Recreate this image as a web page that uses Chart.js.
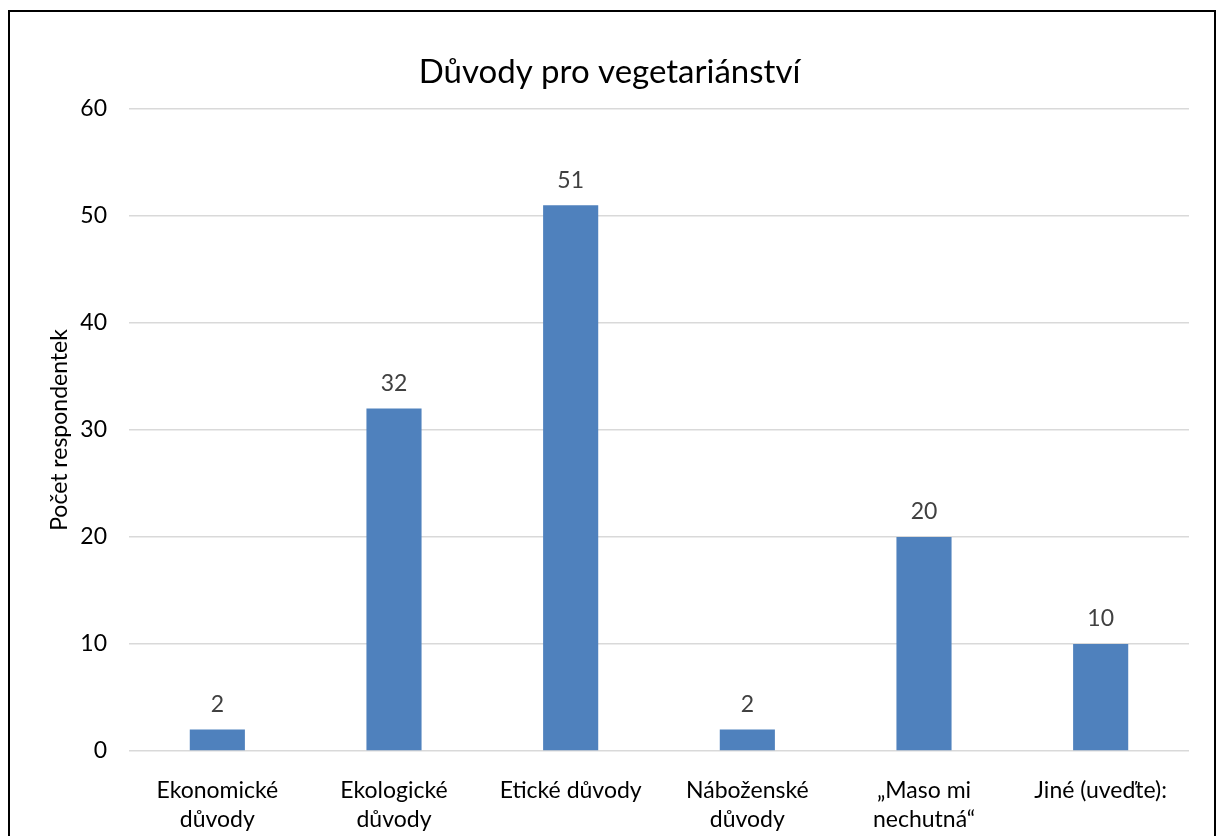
<!DOCTYPE html>
<html>
<head>
<meta charset="utf-8">
<script src="https://cdn.jsdelivr.net/npm/chart.js@4/dist/chart.umd.min.js"></script>
<style>
  html, body { margin: 0; padding: 0; background: #ffffff; }
  #wrap { width: 1224px; height: 836px; position: relative; }
</style>
</head>
<body>
<div id="wrap"><canvas id="c" width="1224" height="836"></canvas></div>
<script>
// Survey: reasons for being vegetarian
const categories = [
  ["Ekonomické", "důvody"],
  ["Ekologické", "důvody"],
  "Etické důvody",
  ["Náboženské", "důvody"],
  ["„Maso mi", "nechutná“"],
  "Jiné (uveďte):"
];
const respondents = [2, 32, 51, 2, 20, 10];
const yTicks = [0, 10, 20, 30, 40, 50, 60];

const FONT = "Lato, 'Open Sans', sans-serif";

// Outer frame and white background
const framePlugin = {
  id: 'frame',
  beforeDraw(chart) {
    const ctx = chart.ctx;
    ctx.save();
    ctx.fillStyle = '#ffffff';
    ctx.fillRect(0, 0, chart.width, chart.height);
    ctx.strokeStyle = '#000000';
    ctx.lineWidth = 2;
    ctx.strokeRect(9, 11, 1206, 840);
    ctx.restore();
  }
};

// Value labels above each bar
const valueLabels = {
  id: 'valueLabels',
  afterDatasetsDraw(chart) {
    const ctx = chart.ctx;
    const meta = chart.getDatasetMeta(0);
    ctx.save();
    ctx.font = "23px " + FONT;
    ctx.fillStyle = '#404040';
    ctx.textAlign = 'center';
    ctx.textBaseline = 'middle';
    meta.data.forEach((bar, i) => {
      ctx.fillText(String(chart.data.datasets[0].data[i]), bar.x, bar.y - 25);
    });
    ctx.restore();
  }
};

new Chart(document.getElementById('c'), {
  type: 'bar',
  data: {
    labels: categories,
    datasets: [{
      data: respondents,
      backgroundColor: '#4F81BD',
      borderWidth: 0,
      categoryPercentage: 1,
      barPercentage: 0.312
    }]
  },
  options: {
    responsive: false,
    animation: false,
    layout: { padding: { left: 30, right: 35, top: 0, bottom: 0 } },
    plugins: {
      legend: { display: false },
      tooltip: { enabled: false },
      title: {
        display: true,
        text: 'Důvody pro vegetariánství',
        color: '#000000',
        font: { family: FONT, size: 33, weight: 'normal', lineHeight: 1.2 },
        padding: { top: 53, bottom: 16.4 }
      }
    },
    scales: {
      x: {
        grid: { display: false },
        border: { display: false },
        ticks: {
          color: '#000000',
          font: { family: FONT, size: 23, lineHeight: 1.22 },
          maxRotation: 0,
          minRotation: 0,
          autoSkip: false,
          padding: 18
        },
        afterFit(s) { s.height = 85; }
      },
      y: {
        min: 0,
        max: 60,
        afterBuildTicks(s) { s.ticks = yTicks.map(v => ({ value: v })); },
        grid: { color: '#d9d9d9', lineWidth: 1.5, drawTicks: false },
        border: { display: false },
        ticks: {
          color: '#000000',
          font: { family: FONT, size: 23 },
          padding: 22
        },
        title: {
          display: true,
          text: 'Počet respondentek',
          color: '#000000',
          font: { family: FONT, size: 23, weight: 'normal', lineHeight: 1.2 },
          padding: { top: 16, bottom: 0 }
        },
        afterFit(s) { s.width = 99; }
      }
    }
  },
  plugins: [framePlugin, valueLabels]
});
</script>
</body>
</html>
